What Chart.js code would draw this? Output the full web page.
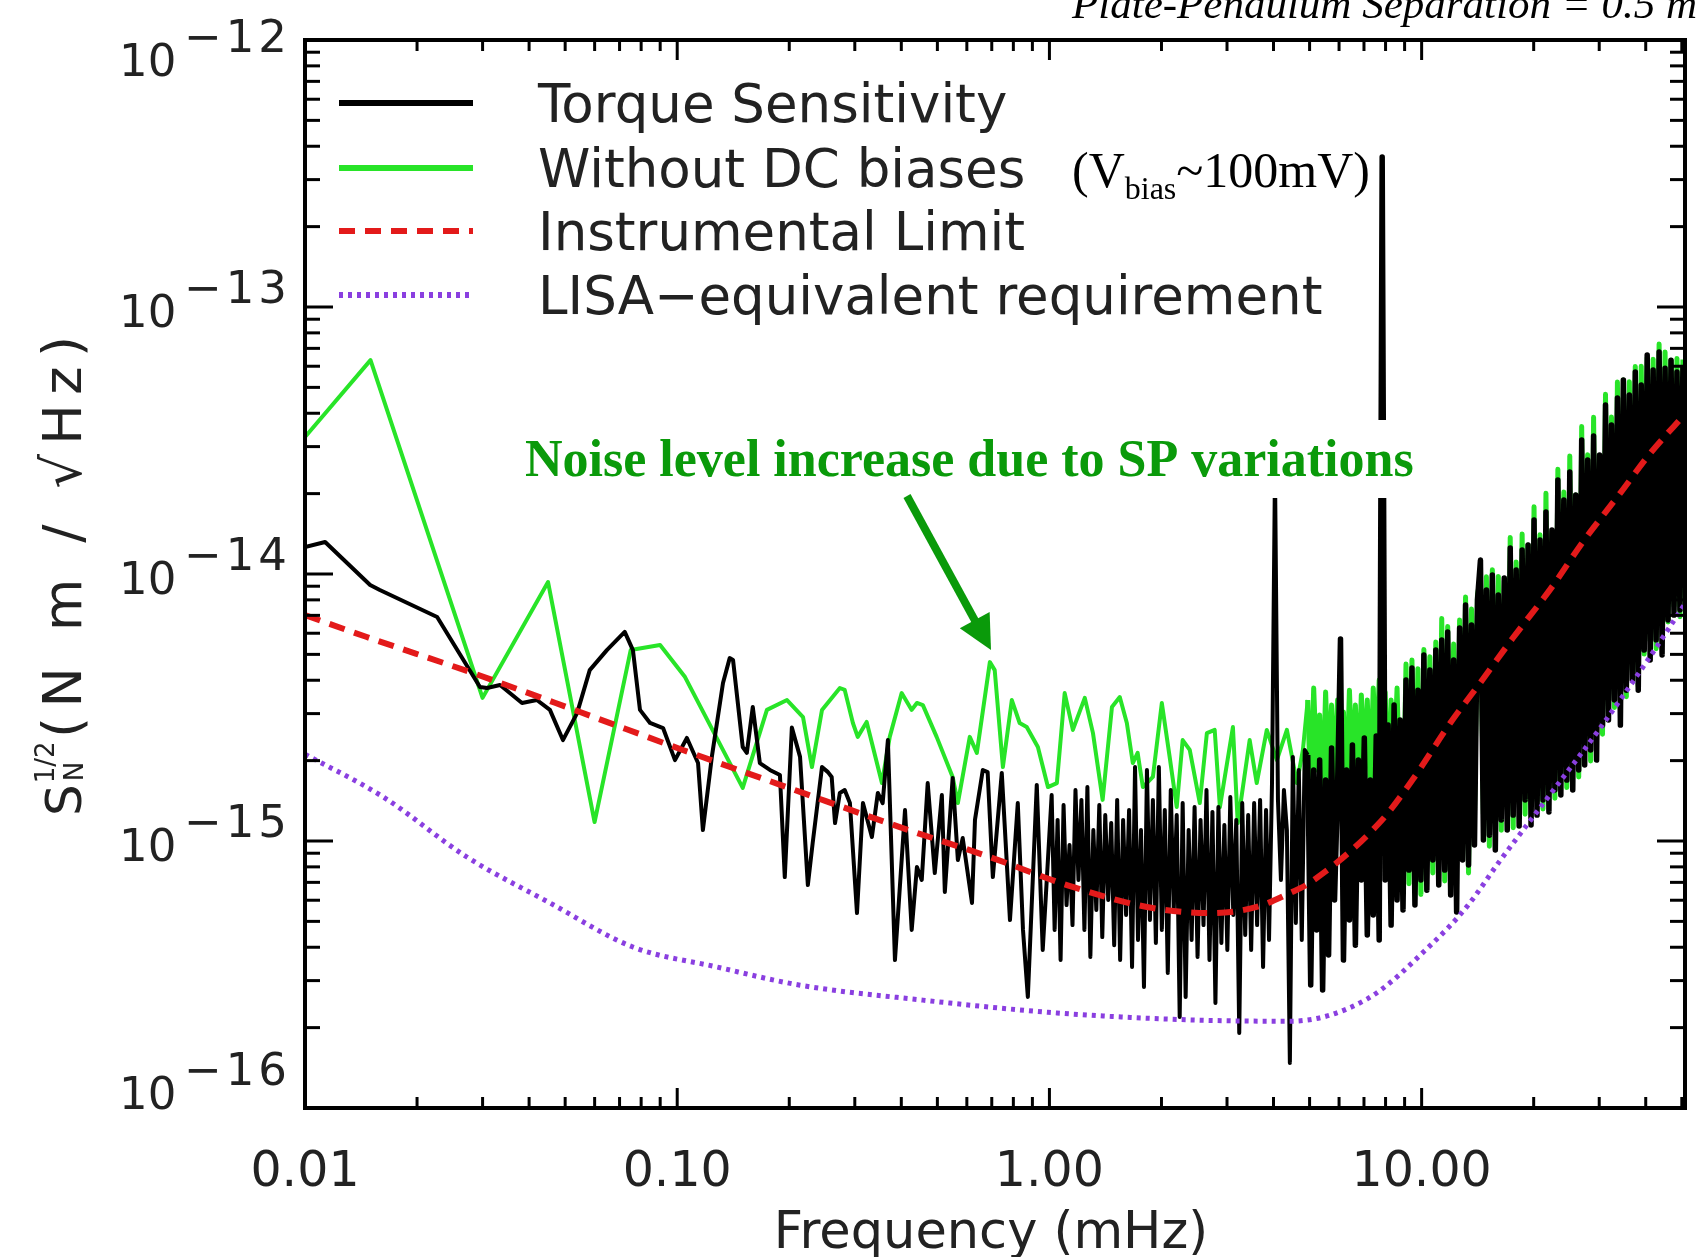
<!DOCTYPE html>
<html>
<head>
<meta charset="utf-8">
<script src="https://cdn.jsdelivr.net/npm/chart.js@4.4.1/dist/chart.umd.min.js"></script>
<style>
  html, body { margin: 0; padding: 0; background: #fff; }
  canvas { display: block; }
</style>
</head>
<body>
<canvas id="spectrum" width="1698" height="1257"></canvas>
<script>
// axis ticks
var xTickValues = [0.01, 0.1, 1, 10];
var xTickLabels = ['0.01', '0.10', '1.00', '10.00'];
var yTickExponents = [-12, -13, -14, -15, -16];

// values, stored as log10(frequency / mHz) and log10(S / N m Hz^-1/2)
var torqueLogF = [
  -2.000, -1.946, -1.825, -1.799, -1.645, -1.530, -1.511, -1.476, -1.417, -1.377,
  -1.342, -1.307, -1.269, -1.235, -1.189, -1.141, -1.119, -1.100, -1.073, -1.038,
  -1.006, -0.974, -0.944, -0.931, -0.907, -0.877, -0.859, -0.850, -0.824, -0.813,
  -0.797, -0.778, -0.751, -0.724, -0.711, -0.692, -0.670, -0.649, -0.636, -0.611,
  -0.595, -0.585, -0.576, -0.563, -0.550, -0.536, -0.517, -0.501, -0.477, -0.461,
  -0.448, -0.434, -0.415, -0.388, -0.370, -0.356, -0.343, -0.327, -0.308, -0.289,
  -0.281, -0.260, -0.246, -0.233, -0.208, -0.200, -0.179, -0.166, -0.152, -0.128,
  -0.106, -0.085, -0.071, -0.058, -0.034, -0.018
];
var torqueLogS = [
  -13.899, -13.880, -14.041, -14.060, -14.161, -14.423, -14.427, -14.416, -14.483, -14.472,
  -14.509, -14.622, -14.521, -14.360, -14.285, -14.217, -14.285, -14.509, -14.558, -14.577,
  -14.697, -14.614, -14.708, -14.959, -14.685, -14.408, -14.315, -14.322, -14.648, -14.670,
  -14.498, -14.708, -14.734, -14.753, -15.135, -14.575, -14.685, -15.165, -15.007, -14.723,
  -14.742, -14.760, -14.933, -14.820, -14.809, -14.858, -15.270, -14.858, -14.985, -14.820,
  -14.858, -14.622, -15.446, -14.884, -15.333, -15.097, -15.146, -14.783, -15.120, -14.828,
  -15.191, -14.764, -15.071, -14.989, -15.232, -14.921, -14.734, -14.742, -15.135, -14.745,
  -15.296, -14.858, -15.333, -15.584, -14.790, -15.408
];

// 1 - 5 mHz, where the torque spectrum gets dense
var midLogF = [
  0.006, 0.014, 0.022, 0.030, 0.038, 0.046, 0.054, 0.062, 0.070, 0.078,
  0.086, 0.094, 0.102, 0.110, 0.118, 0.126, 0.134, 0.142, 0.150, 0.158,
  0.166, 0.174, 0.182, 0.190, 0.198, 0.206, 0.214, 0.222, 0.230, 0.238,
  0.246, 0.254, 0.262, 0.270, 0.278, 0.286, 0.294, 0.302, 0.310, 0.318,
  0.326, 0.334, 0.342, 0.350, 0.358, 0.366, 0.374, 0.382, 0.390, 0.398,
  0.406, 0.414, 0.422, 0.430, 0.438, 0.446, 0.454, 0.462, 0.470, 0.478,
  0.486, 0.494, 0.502, 0.510, 0.518, 0.526, 0.534, 0.542, 0.550, 0.558,
  0.566, 0.574, 0.582, 0.590, 0.598, 0.606, 0.614, 0.622, 0.630, 0.638,
  0.646, 0.654, 0.662, 0.670, 0.678, 0.686
];
var torqueMidLogS = [
  -14.828, -15.333, -14.921, -15.446, -14.865, -15.240, -15.015, -15.315, -14.809, -15.146,
  -14.846, -15.333, -14.798, -15.434, -14.959, -15.258, -14.865, -15.360, -14.903, -15.221,
  -14.933, -15.390, -14.846, -15.446, -14.921, -15.277, -14.884, -15.472, -14.723, -15.371,
  -14.959, -15.547, -14.734, -15.296, -14.846, -15.382, -14.723, -15.333, -14.884, -15.494,
  -14.809, -15.258, -14.903, -15.659, -14.858, -15.584, -14.959, -15.371, -14.873, -15.434,
  -14.921, -15.315, -14.809, -15.446, -14.891, -15.607, -14.873, -15.382, -14.940, -15.408,
  -14.835, -15.277, -14.921, -15.719, -14.858, -15.352, -14.903, -15.408, -14.858, -15.315,
  -14.846, -15.472, -14.884, -15.371, -14.783, -13.610, -14.846, -15.146, -14.809, -14.959,
  -15.831, -14.685, -15.307, -14.734, -15.371, -14.659
];

var biasLogF = [
  -2.000, -1.824, -1.523, -1.347, -1.222, -1.125, -1.046, -0.979, -0.824, -0.759,
  -0.705, -0.662, -0.638, -0.611, -0.563, -0.550, -0.528, -0.515, -0.491, -0.450,
  -0.429, -0.397, -0.370, -0.356, -0.340, -0.303, -0.260, -0.246, -0.214, -0.195,
  -0.160, -0.147, -0.125, -0.101, -0.080, -0.061, -0.031, -0.004, 0.020, 0.041,
  0.063, 0.095, 0.117, 0.143, 0.168, 0.189, 0.208, 0.224, 0.237, 0.251,
  0.278, 0.302, 0.323, 0.342, 0.358, 0.377, 0.404, 0.423, 0.444, 0.458,
  0.493, 0.506, 0.538, 0.557, 0.584, 0.611, 0.638, 0.665, 0.681
];
var biasLogS = [
  -13.487, -13.199, -14.464, -14.030, -14.929, -14.285, -14.266, -14.386, -14.801, -14.509,
  -14.472, -14.536, -14.723, -14.509, -14.427, -14.434, -14.558, -14.610, -14.554, -14.783,
  -14.610, -14.446, -14.509, -14.483, -14.491, -14.610, -14.760, -14.858, -14.610, -14.670,
  -14.330, -14.360, -14.723, -14.472, -14.558, -14.573, -14.648, -14.798, -14.783, -14.446,
  -14.584, -14.464, -14.596, -14.846, -14.498, -14.461, -14.558, -14.708, -14.670, -14.798,
  -14.760, -14.483, -14.685, -14.873, -14.622, -14.659, -14.858, -14.596, -14.584, -14.873,
  -14.573, -14.933, -14.622, -14.783, -14.584, -14.697, -14.584, -14.783, -14.659
];

// 5 - 50 mHz: both spectra share these bins
var bandLogF = [
  0.694, 0.702, 0.710, 0.718, 0.726, 0.734, 0.742, 0.750, 0.758, 0.766,
  0.774, 0.782, 0.790, 0.798, 0.806, 0.814, 0.822, 0.830, 0.838, 0.846,
  0.854, 0.862, 0.870, 0.878, 0.886, 0.894, 0.902, 0.910, 0.918, 0.926,
  0.934, 0.942, 0.950, 0.958, 0.966, 0.974, 0.982, 0.990, 0.998, 1.006,
  1.014, 1.022, 1.030, 1.038, 1.046, 1.054, 1.062, 1.070, 1.078, 1.086,
  1.094, 1.102, 1.110, 1.118, 1.126, 1.134, 1.142, 1.150, 1.158, 1.166,
  1.174, 1.182, 1.190, 1.198, 1.206, 1.214, 1.222, 1.230, 1.238, 1.246,
  1.254, 1.262, 1.270, 1.278, 1.286, 1.294, 1.302, 1.310, 1.318, 1.326,
  1.334, 1.342, 1.350, 1.358, 1.366, 1.374, 1.382, 1.390, 1.398, 1.406,
  1.414, 1.422, 1.430, 1.438, 1.446, 1.454, 1.462, 1.470, 1.478, 1.486,
  1.494, 1.502, 1.510, 1.518, 1.526, 1.534, 1.542, 1.550, 1.558, 1.566,
  1.574, 1.582, 1.590, 1.598, 1.606, 1.614, 1.622, 1.630, 1.638, 1.646,
  1.654, 1.662, 1.670, 1.678, 1.686, 1.694, 1.702
];
var torqueBandLogS = [
  -14.678, -15.539, -14.734, -15.333, -14.697, -15.558, -14.772, -15.427, -14.652, -15.221,
  -14.809, -14.243, -15.446, -14.734, -15.296, -14.640, -15.390, -14.697, -15.146, -14.614,
  -15.352, -14.772, -15.277, -14.607, -15.371, -12.438, -15.146, -14.566, -15.315, -14.491,
  -15.221, -14.547, -15.258, -14.397, -15.109, -14.352, -15.240, -14.435, -15.146, -14.303,
  -15.184, -14.360, -15.071, -14.285, -15.165, -14.247, -15.109, -14.217, -15.202, -14.322,
  -15.266, -14.202, -15.071, -14.116, -15.090, -14.191, -15.015, -14.097, -13.948, -14.996,
  -14.060, -14.978, -14.004, -15.034, -14.079, -14.921, -14.015, -14.959, -13.903, -14.903,
  -13.985, -14.944, -13.910, -14.846, -13.891, -14.940, -13.798, -14.903, -13.873, -14.846,
  -13.768, -14.891, -13.835, -14.809, -13.648, -14.828, -13.723, -14.772, -13.618, -14.809,
  -13.704, -14.734, -13.498, -14.715, -13.573, -14.659, -13.483, -14.697, -13.554, -14.566,
  -13.367, -14.547, -13.442, -14.472, -13.341, -14.566, -13.273, -14.435, -13.330, -14.397,
  -13.243, -14.435, -13.292, -14.285, -13.180, -14.322, -13.236, -14.247, -13.169, -14.303,
  -13.229, -14.172, -13.199, -14.154, -13.243, -14.135, -13.217
];
var biasBandLogS = [
  -14.472, -14.846, -14.427, -14.734, -14.528, -14.865, -14.442, -14.772, -14.491, -14.809,
  -14.472, -14.697, -14.517, -14.828, -14.435, -14.753, -14.491, -14.790, -14.453, -14.734,
  -14.472, -14.809, -14.427, -14.715, -14.397, -14.772, -14.442, -14.846, -14.472, -14.734,
  -14.427, -14.865, -14.960, -14.337, -15.160, -14.322, -15.020, -14.355, -15.200, -14.283,
  -15.050, -14.310, -15.120, -14.255, -14.980, -14.167, -15.150, -14.197, -14.950, -14.262,
  -15.050, -14.172, -14.920, -14.086, -15.120, -14.131, -14.900, -14.077, -14.020, -14.900,
  -14.010, -15.020, -13.984, -14.920, -14.009, -14.960, -14.025, -14.880, -13.863, -14.950,
  -13.955, -14.860, -13.850, -14.900, -13.891, -14.820, -13.748, -14.850, -13.853, -14.880,
  -13.698, -14.780, -13.845, -14.840, -13.608, -14.750, -13.693, -14.800, -13.558, -14.720,
  -13.704, -14.760, -13.448, -14.660, -13.553, -14.700, -13.413, -14.620, -13.564, -14.600,
  -13.327, -14.520, -13.412, -14.500, -13.281, -14.450, -13.273, -14.460, -13.280, -14.360,
  -13.223, -14.420, -13.222, -14.300, -13.190, -14.250, -13.196, -14.280, -13.139, -14.200,
  -13.169, -14.180, -13.199, -14.120, -13.193, -14.160, -13.197
];

var limitLogF = [-2.000, -1.834, -1.549, -1.261, -0.985, -0.670, -0.402, -0.160, 0.047, 0.262,
  0.431, 0.557, 0.646, 0.699, 0.888, 0.976, 1.076, 1.156, 1.245, 1.352, 1.433, 1.532, 1.613, 1.708];
var limitLogS = [-14.154, -14.236, -14.371, -14.517, -14.659, -14.816, -14.948, -15.060, -15.165, -15.247,
  -15.270, -15.247, -15.195, -15.157, -14.930, -14.770, -14.560, -14.410, -14.240, -14.045, -13.880, -13.700, -13.550, -13.400];

var lisaLogF = [-2.000, -1.790, -1.565, -1.342, -1.119, -0.893, -0.670, -0.340, 0.020, 0.377,
  0.646, 0.853, 1.030, 1.121, 1.210, 1.344, 1.478, 1.613, 1.708];
var lisaLogS = [-14.675, -14.835, -15.060, -15.232, -15.397, -15.472, -15.540, -15.596, -15.644, -15.670,
  -15.675, -15.592, -15.382, -15.247, -15.075, -14.828, -14.580, -14.311, -14.110];

function toPoints(logF, logS) {
  var pts = [];
  for (var i = 0; i < logF.length; i++) {
    pts.push({ x: Math.pow(10, logF[i]), y: Math.pow(10, logS[i]) });
  }
  return pts;
}

var torquePoints = toPoints(torqueLogF, torqueLogS)
  .concat(toPoints(midLogF, torqueMidLogS))
  .concat(toPoints(bandLogF, torqueBandLogS));
var biasPoints = toPoints(biasLogF, biasLogS).concat(toPoints(bandLogF, biasBandLogS));
var limitPoints = toPoints(limitLogF, limitLogS);
var lisaPoints = toPoints(lisaLogF, lisaLogS);

// the dense part of the spectra reads as a filled band; draw it a bit heavier
var bandStart = Math.pow(10, bandLogF[0]);

var textColor = '#222222';
var sansFont = '"DejaVu Sans", "Liberation Sans", sans-serif';
var serifFont = '"Liberation Serif", "DejaVu Serif", serif';

function line(ctx, x1, y1, x2, y2) {
  ctx.beginPath();
  ctx.moveTo(x1, y1);
  ctx.lineTo(x2, y2);
  ctx.stroke();
}

var decorPlugin = {
  id: 'decor',
  afterDatasetsDraw: function (chart) {
    var ctx = chart.ctx;
    var area = chart.chartArea;
    var xs = chart.scales.x;
    var ys = chart.scales.y;
    ctx.save();

    // annotation with white backing
    ctx.fillStyle = '#fff';
    ctx.fillRect(515, 420, 905, 78);
    ctx.fillStyle = '#0a9a0a';
    ctx.font = 'bold 52px ' + serifFont;
    ctx.textBaseline = 'alphabetic';
    ctx.textAlign = 'left';
    ctx.fillText('Noise level increase due to SP variations', 525, 476);

    // arrow
    var sx = 907, sy = 496, tx = 991, ty = 650;
    var dx = tx - sx, dy = ty - sy, len = Math.sqrt(dx * dx + dy * dy);
    var ux = dx / len, uy = dy / len;
    var headLen = 34, headHalf = 17;
    ctx.strokeStyle = '#0a9a0a';
    ctx.lineWidth = 8;
    ctx.lineCap = 'butt';
    line(ctx, sx, sy, tx - ux * (headLen - 2), ty - uy * (headLen - 2));
    var bx = tx - ux * headLen, by = ty - uy * headLen;
    ctx.beginPath();
    ctx.moveTo(tx, ty);
    ctx.lineTo(bx - uy * headHalf, by + ux * headHalf);
    ctx.lineTo(bx + uy * headHalf, by - ux * headHalf);
    ctx.closePath();
    ctx.fill();

    // legend
    var rows = [103, 168, 231, 295];
    chart.data.datasets.forEach(function (ds, i) {
      var y = rows[i];
      ctx.strokeStyle = ds.borderColor;
      ctx.lineWidth = ds.legendWidth;
      ctx.setLineDash(ds.borderDash || []);
      line(ctx, 339, y, 473, y);
      ctx.setLineDash([]);
      ctx.fillStyle = textColor;
      ctx.font = '53px ' + sansFont;
      ctx.fillText(ds.label, 538, y + 19);
    });
    ctx.fillStyle = '#000';
    var vx = 1072, vy = 187;
    ctx.font = '50px ' + serifFont;
    ctx.fillText('(V', vx, vy);
    vx += ctx.measureText('(V').width;
    ctx.font = '32px ' + serifFont;
    ctx.fillText('bias', vx, vy + 12);
    vx += ctx.measureText('bias').width;
    ctx.font = '50px ' + serifFont;
    ctx.fillText('~100mV)', vx, vy);

    // frame and inward ticks on all four sides
    ctx.strokeStyle = '#000';
    ctx.lineWidth = 3;
    var d, m, v, p, len2;
    for (d = -2; d <= 1; d++) {
      for (m = 1; m <= 9; m++) {
        v = m * Math.pow(10, d);
        if (v <= xs.min || v > xs.max) continue;
        p = xs.getPixelForValue(v);
        len2 = m === 1 ? 20 : 11;
        line(ctx, p, area.bottom, p, area.bottom - len2);
        line(ctx, p, area.top, p, area.top + len2);
      }
    }
    for (d = -16; d <= -13; d++) {
      for (m = 1; m <= 9; m++) {
        v = m * Math.pow(10, d);
        if (v <= ys.min) continue;
        p = ys.getPixelForValue(v);
        len2 = m === 1 ? 28 : 15;
        line(ctx, area.left, p, area.left + len2, p);
        line(ctx, area.right, p, area.right - len2, p);
      }
    }
    ctx.lineWidth = 4;
    ctx.strokeRect(area.left, area.top, area.right - area.left, area.bottom - area.top);

    // x tick labels and title
    ctx.fillStyle = textColor;
    ctx.textAlign = 'center';
    ctx.font = '49px ' + sansFont;
    xTickValues.forEach(function (val, i) {
      ctx.fillText(xTickLabels[i], xs.getPixelForValue(val), 1186);
    });
    ctx.font = '51px ' + sansFont;
    ctx.fillText('Frequency (mHz)', 991, 1248);

    // y tick labels: 10 with raised exponent
    ctx.textAlign = 'left';
    yTickExponents.forEach(function (e) {
      var py = ys.getPixelForValue(Math.pow(10, e));
      var base = Math.min(Math.max(py + 20, area.top + 36), area.bottom + 1);
      ctx.font = '45px ' + sansFont;
      ctx.fillText('10', 119, base);
      var ex = 184;
      var parts = ['\u2212'].concat(String(Math.abs(e)).split(''));
      parts.forEach(function (ch) {
        ctx.fillText(ch, ex, base - 24);
        ex += ctx.measureText(ch).width + 4;
      });
    });

    // y title, rotated
    ctx.save();
    ctx.translate(81, 816);
    ctx.rotate(-Math.PI / 2);
    ctx.font = '50px ' + sansFont;
    ctx.fillText('S', 0, 0);
    var sw = ctx.measureText('S').width;
    ctx.font = '26px ' + sansFont;
    ctx.fillText('1/2', sw + 1, -27);
    ctx.fillText('N', sw + 3, 2);
    ctx.font = '54px ' + sansFont;
    var unit = '(N m / \u221AHz)';
    var natural = ctx.measureText(unit).width;
    var spacing = (402 - natural) / (unit.length - 1);
    var cx = 78;
    for (var k = 0; k < unit.length; k++) {
      ctx.fillText(unit[k], cx, 0);
      cx += ctx.measureText(unit[k]).width + spacing;
    }
    ctx.restore();

    // title, cut by the top edge
    ctx.fillStyle = '#000';
    ctx.font = 'italic 43px ' + serifFont;
    ctx.fillText('Plate-Pendulum Separation = 0.5 mm', 1072, 18);

    ctx.restore();
  }
};

var chart = new Chart(document.getElementById('spectrum'), {
  type: 'line',
  data: {
    datasets: [
      {
        label: 'Torque Sensitivity',
        data: torquePoints,
        borderColor: '#000000',
        borderWidth: 4,
        borderJoinStyle: 'round',
        segment: {
          borderWidth: function (c) { return c.p0.parsed.x >= bandStart ? 5.5 : 4; }
        },
        legendWidth: 6,
        order: 3
      },
      {
        label: 'Without DC biases',
        data: biasPoints,
        borderColor: 'rgb(40, 228, 40)',
        borderWidth: 4,
        borderJoinStyle: 'round',
        segment: {
          borderWidth: function (c) { return c.p0.parsed.x >= bandStart ? 5 : 4; }
        },
        legendWidth: 6,
        order: 4
      },
      {
        label: 'Instrumental Limit',
        data: limitPoints,
        borderColor: '#e31a1a',
        borderWidth: 6,
        legendWidth: 6,
        borderDash: [16, 10],
        cubicInterpolationMode: 'monotone',
        order: 1
      },
      {
        label: 'LISA\u2212equivalent requirement',
        data: lisaPoints,
        borderColor: '#8a3fe0',
        borderWidth: 5,
        legendWidth: 6,
        borderDash: [4, 5],
        cubicInterpolationMode: 'monotone',
        order: 2
      }
    ]
  },
  options: {
    responsive: false,
    animation: false,
    devicePixelRatio: 1,
    layout: { padding: { top: 40, right: 13, left: 0, bottom: 0 } },
    elements: {
      point: { radius: 0 },
      line: { tension: 0, fill: false, borderCapStyle: 'butt' }
    },
    plugins: {
      legend: { display: false },
      tooltip: { enabled: false }
    },
    scales: {
      x: {
        type: 'logarithmic',
        min: 0.01,
        max: 51,
        grid: { display: false, drawTicks: false },
        border: { display: false },
        ticks: { display: false },
        afterFit: function (scale) { scale.height = 149; }
      },
      y: {
        type: 'logarithmic',
        min: 1e-16,
        max: 1e-12,
        grid: { display: false, drawTicks: false },
        border: { display: false },
        ticks: { display: false },
        afterFit: function (scale) { scale.width = 305; }
      }
    }
  },
  plugins: [decorPlugin]
});
</script>
</body>
</html>
